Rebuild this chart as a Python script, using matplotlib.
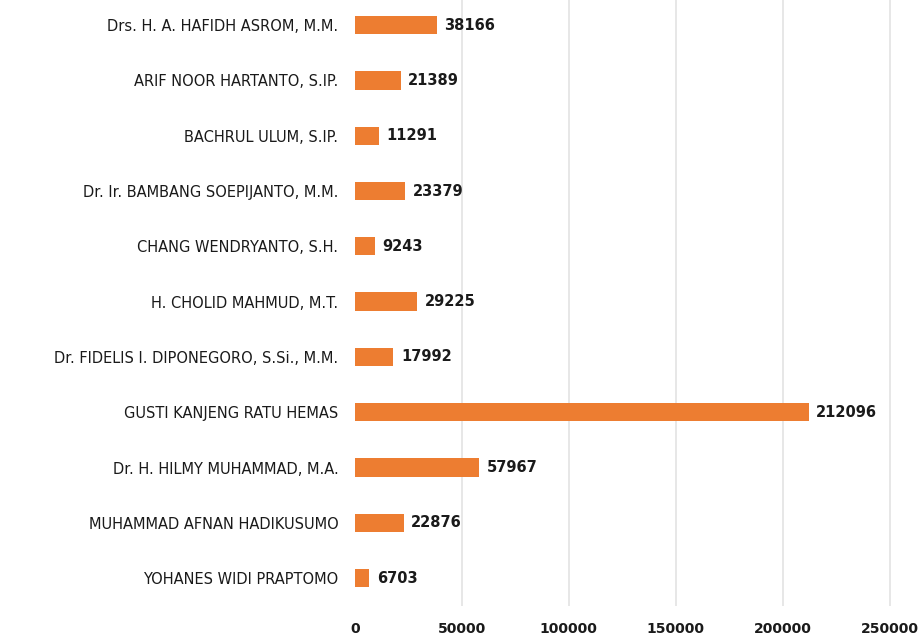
import matplotlib
matplotlib.use('Agg')
import matplotlib.pyplot as plt
from matplotlib import font_manager

# candidates, top of chart first
names = ['Drs. H. A. HAFIDH ASROM, M.M.',
         'ARIF NOOR HARTANTO, S.IP.',
         'BACHRUL ULUM, S.IP.',
         'Dr. Ir. BAMBANG SOEPIJANTO, M.M.',
         'CHANG WENDRYANTO, S.H.',
         'H. CHOLID MAHMUD, M.T.',
         'Dr. FIDELIS I. DIPONEGORO, S.Si., M.M.',
         'GUSTI KANJENG RATU HEMAS',
         'Dr. H. HILMY MUHAMMAD, M.A.',
         'MUHAMMAD AFNAN HADIKUSUMO',
         'YOHANES WIDI PRAPTOMO']
votes = [38166, 21389, 11291, 23379, 9243, 29225, 17992, 212096, 57967, 22876, 6703]
xticks = [0, 50000, 100000, 150000, 200000, 250000]

# narrow font if it is there
avail = {f.name for f in font_manager.fontManager.ttflist}
fam = 'Liberation Sans Narrow' if 'Liberation Sans Narrow' in avail else 'DejaVu Sans'
plt.rcParams['font.family'] = [fam, 'DejaVu Sans']

fig = plt.figure(figsize=(9.22, 6.39), dpi=100)
ax = fig.add_axes([0.385, 0.052, 0.603, 0.952])

pos = list(range(len(names)))
ax.barh(pos, votes, height=0.33, color='#ED7D31', zorder=3)
for p, v in zip(pos, votes):
    ax.text(v + 3500, p, str(v), va='center', ha='left', fontsize=10.5,
            fontweight='bold', color='#1a1a1a')

ax.set_yticks(pos)
ax.set_yticklabels(names, fontsize=10.5, color='#1a1a1a')
ax.set_ylim(len(names) - 0.5, -0.5)
ax.set_xlim(0, 260000)
ax.set_xticks(xticks)
ax.set_xticklabels([str(t) for t in xticks], fontsize=10, fontweight='bold', color='#1a1a1a')
ax.tick_params(axis='both', length=0)
ax.tick_params(axis='y', pad=12)
ax.tick_params(axis='x', pad=12)
ax.grid(axis='x', color='#e3e3e3', linewidth=1.2, zorder=0)
ax.get_xgridlines()[0].set_visible(False)
for s in ax.spines.values():
    s.set_visible(False)

fig.savefig('out.png', dpi=100)
